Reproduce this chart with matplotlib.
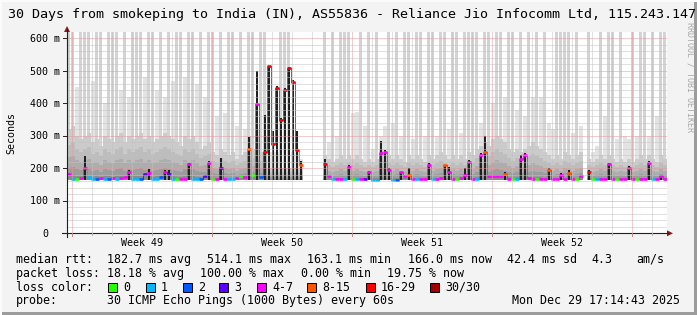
import numpy as np
import matplotlib
matplotlib.use('Agg')
import matplotlib.pyplot as plt
from matplotlib.lines import Line2D
from matplotlib.patches import Rectangle, Polygon

W, H = 697, 315
nan = np.nan

title = '30 Days from smokeping to India (IN), AS55836 - Reliance Jio Infocomm Ltd, 115.243.147'
week_labels = ['Week 49', 'Week 50', 'Week 51', 'Week 52']
week_mid_days = [3.75, 10.75, 17.75, 24.75]
y_ticks = [0, 100, 200, 300, 400, 500, 600]
y_tick_labels = ['0', '100 m', '200 m', '300 m', '400 m', '500 m', '600 m']
bin_days = 0.2     # each value below covers 0.2 day (about 4.8 h)
min_rtt = 163.1

# median rtt per bin (ms)
median_rtt = np.array([
    182, 168, 168, 170, 200, 172, 168, 168, 170, 168,
    168, 170, 168, 170, 172, 190, 166, 166, 168, 182,
    185, 168, 168, 172, 188, 182, 168, 166, 168, 168,
    212, 166, 166, 168, 175, 215, 166, 168, 200, 168,
    168, 168, 170, 178, 172, 260, 180, 398, 172, 250,
    514, 275, 447, 350, 440, 508, 465, 258, 210, nan,
    nan, nan, nan, nan, 212, 178, 168, 168, 168, 168,
    205, 166, 166, 168, 168, 188, 165, 165, 247, 250,
    195, 165, 165, 188, 175, 180, 168, 168, 168, 168,
    210, 168, 168, 170, 210, 190, 168, 166, 170, 180,
    220, 166, 166, 240, 250, 175, 175, 176, 176, 182,
    168, 166, 166, 230, 240, 170, 166, 166, 166, 166,
    195, 166, 166, 180, 168, 185, 166, 166, 175, nan,
    190, 166, 166, 166, 168, 212, 168, 166, 166, 166,
    200, 166, 166, 166, 166, 218, 166, 168, 175, 166])

# loss colour index per bin (0 .. 7 -> 0, 1, 2, 3, 4-7, 8-15, 16-29, 30/30)
loss_level = [
    4, 1, 0, 4, 4, 1, 1, 2, 4, 1,
    2, 4, 1, 4, 4, 4, 1, 1, 2, 3,
    4, 1, 1, 2, 4, 3, 1, 0, 4, 4,
    4, 1, 1, 2, 3, 4, 0, 4, 3, 4,
    1, 1, 4, 0, 4, 5, 0, 4, 2, 6,
    6, 6, 6, 6, 6, 6, 6, 6, 5, 7,
    7, 7, 7, 7, 6, 4, 1, 4, 4, 1,
    4, 0, 1, 4, 3, 4, 1, 1, 4, 4,
    4, 1, 2, 4, 4, 5, 4, 1, 4, 4,
    4, 1, 4, 4, 5, 4, 4, 0, 4, 4,
    4, 4, 1, 4, 5, 4, 4, 4, 4, 5,
    4, 0, 1, 4, 4, 4, 4, 0, 4, 4,
    5, 4, 4, 4, 4, 5, 4, 0, 4, 4,
    6, 0, 1, 4, 4, 4, 4, 0, 4, 4,
    4, 4, 0, 4, 4, 4, 1, 4, 4, 4]

# top of the dense (dark) smoke, 0 = none
dark_top = np.array([
    0, 0, 0, 0, 238, 0, 0, 0, 0, 0,
    0, 0, 0, 0, 0, 195, 0, 0, 0, 0,
    198, 0, 0, 0, 195, 195, 0, 0, 0, 0,
    218, 0, 0, 0, 0, 222, 0, 0, 232, 0,
    0, 0, 0, 0, 0, 297, 0, 500, 0, 365,
    515, 316, 453, 355, 447, 512, 472, 316, 222, 0,
    0, 0, 0, 0, 230, 0, 0, 0, 0, 0,
    210, 0, 0, 0, 0, 192, 0, 0, 283, 256,
    200, 0, 0, 190, 0, 200, 0, 0, 0, 0,
    216, 0, 0, 0, 210, 205, 0, 0, 0, 200,
    225, 0, 0, 246, 300, 0, 0, 0, 0, 190,
    0, 0, 0, 240, 246, 0, 0, 0, 0, 0,
    200, 0, 0, 185, 0, 195, 0, 0, 0, 0,
    195, 0, 0, 0, 0, 216, 0, 0, 0, 0,
    206, 0, 0, 0, 0, 222, 0, 0, 180, 0], dtype=float)

# top of the medium grey smoke (ms)
smoke_mid = np.array([
    320, 330, 300, 290, 300, 310, 280, 290, 270, 300,
    290, 280, 300, 310, 280, 300, 290, 300, 310, 290,
    300, 280, 290, 300, 310, 300, 290, 280, 270, 300,
    290, 300, 280, 260, 270, 280, 250, 240, 260, 250,
    240, 250, 230, 240, 250, 300, 260, 300, 250, 300,
    200, 200, 200, 200, 200, 200, 200, 200, 200, nan,
    nan, nan, nan, nan, 240, 230, 220, 230, 240, 230,
    240, 230, 240, 230, 220, 230, 220, 230, 260, 250,
    240, 230, 240, 230, 220, 240, 230, 240, 230, 220,
    240, 230, 240, 250, 240, 230, 240, 230, 240, 230,
    250, 240, 260, 270, 280, 270, 290, 300, 290, 280,
    260, 250, 260, 250, 260, 270, 280, 270, 260, 250,
    240, 230, 240, 230, 250, 240, 230, 240, 250, nan,
    230, 220, 230, 240, 230, 240, 230, 220, 230, 220,
    230, 220, 230, 240, 230, 240, 230, 220, 240, 230])

# top of the light smoke (ms), 620 = above the top of the graph
smoke_top = np.array([
    620, 620, 450, 620, 620, 620, 470, 620, 620, 400,
    620, 620, 620, 440, 620, 420, 620, 620, 620, 480,
    620, 620, 440, 620, 420, 620, 470, 620, 620, 480,
    620, 620, 460, 620, 420, 620, 620, 360, 620, 370,
    620, 620, 330, 620, 320, 620, 620, 320, 620, 620,
    250, 250, 250, 620, 620, 620, 250, 250, 230, nan,
    nan, nan, nan, nan, 620, 280, 620, 300, 620, 620,
    620, 370, 375, 620, 330, 620, 260, 620, 300, 330,
    620, 340, 620, 300, 620, 620, 290, 620, 620, 300,
    620, 620, 300, 620, 620, 320, 620, 620, 310, 620,
    620, 620, 620, 340, 620, 620, 400, 620, 620, 420,
    620, 620, 380, 620, 360, 620, 420, 620, 420, 620,
    340, 320, 620, 620, 620, 620, 310, 620, 330, nan,
    620, 250, 270, 620, 360, 620, 620, 290, 620, 300,
    290, 620, 300, 620, 620, 300, 620, 360, 620, 620])

loss_colors = ['#26ff00', '#00b8ff', '#0059ff', '#5e00ff',
               '#ff00ff', '#ff5500', '#ff0000', '#a10000']
loss_names = ['0', '1', '2', '3', '4-7', '8-15', '16-29', '30/30']

mono = 'DejaVu Sans Mono'


def fx(x):
    return x / W


def fy(y):
    return 1 - y / H


fig = plt.figure(figsize=(W / 100, H / 100), dpi=100, facecolor='#f3f3f3')
y0, y1 = 233.3, 32
ax = fig.add_axes([fx(67), fy(y0), 600 / W, (y0 - y1) / H])
ax.set_xlim(0, 30)
ax.set_ylim(0, 620)
ax.set_facecolor('white')
ax.set_xticks([])
ax.set_yticks([])
for s in ax.spines.values():
    s.set_visible(False)

n = len(median_rtt)
x_left = np.arange(n) * bin_days
ok = ~np.isnan(median_rtt)


def bars(top, color, z, width=bin_days, offset=0.0, mask=None):
    m = ok if mask is None else (ok & mask)
    top = np.maximum(top, min_rtt)
    ax.bar(x_left[m] + offset, (top - min_rtt)[m], width=width, bottom=min_rtt,
           align='edge', color=color, linewidth=0, zorder=z)


# smoke: outer part (off-scale columns darker and a bit narrower), then
# darker layers toward the median
tall = smoke_top >= 600
bars(smoke_top, '#e3e3e3', 1, mask=~tall)
bars(smoke_top, '#d3d3d3', 1, width=bin_days * 0.75, offset=bin_days * 0.1, mask=tall)
for f, c in zip([1.0, 0.7, 0.45, 0.25, 0.1],
                ['#cbcbcb', '#bdbdbd', '#adadad', '#9c9c9c', '#8a8a8a']):
    bars(min_rtt + (smoke_mid - min_rtt) * f, c, 2)
dk = np.where(dark_top > 0, dark_top, min_rtt)
bars(dk, '#202020', 3, width=bin_days * 0.7, offset=bin_days * 0.15)

# median line coloured by loss
for i in range(n):
    if np.isnan(median_rtt[i]):
        continue
    c = loss_colors[loss_level[i]]
    ax.plot([x_left[i], x_left[i] + bin_days], [median_rtt[i]] * 2, color=c,
            lw=1.9, solid_capstyle='butt', zorder=4)
    if i > 0 and not np.isnan(median_rtt[i - 1]) and abs(median_rtt[i] - median_rtt[i - 1]) > 4:
        ax.plot([x_left[i]] * 2, [median_rtt[i - 1], median_rtt[i]], color=c,
                lw=0.6, zorder=4)

# grid, drawn over the data like rrdtool does
dot = (0, (1, 1))
for d in range(30):
    xd = 0.25 + d
    major = d % 7 == 0
    ax.axvline(xd, color='#e39a9a' if major else '#c2c2c2', lw=0.72, ls=dot, zorder=5)
for v in range(20, 620, 20):
    major = v % 100 == 0
    ax.axhline(v, color='#e39a9a' if major else '#c2c2c2', lw=0.72, ls=dot, zorder=5)

# axes with arrows
fig.add_artist(Line2D([fx(62), fx(668)], [fy(y0)] * 2, color='#202020', lw=0.8))
fig.add_artist(Line2D([fx(67)] * 2, [fy(237), fy(29)], color='#202020', lw=0.8))
fig.add_artist(Polygon([(fx(667), fy(y0 - 3)), (fx(667), fy(y0 + 3)), (fx(673), fy(y0))],
                       closed=True, color='#8e1b1b', lw=0))
fig.add_artist(Polygon([(fx(64), fy(32)), (fx(70), fy(32)), (fx(67), fy(26))],
                       closed=True, color='#8e1b1b', lw=0))
for v in y_ticks:
    yy = y0 - v * (y0 - y1) / 620
    fig.add_artist(Line2D([fx(63), fx(67)], [fy(yy)] * 2, color='#202020', lw=0.7))
for d in range(30):
    xx = 67 + (0.25 + d) * 20
    major = d % 7 == 0
    fig.add_artist(Line2D([fx(xx)] * 2, [fy(y0), fy(y0 + (3 if major else 2))],
                          color='#d08080' if major else '#b0b0b0', lw=0.7))

# texts
fig.text(fx(8), fy(18), title, family=mono, fontsize=9.6, ha='left', va='baseline')
fig.text(fx(11), fy(133), 'Seconds', family=mono, fontsize=7.2, rotation=90,
         ha='center', va='center')
for v, lab in zip(y_ticks, y_tick_labels):
    yy = y0 - v * (y0 - y1) / 620
    xr = 60 if v > 0 else 48
    fig.text(fx(xr), fy(yy + 3.6), lab, family=mono, fontsize=7.2, ha='right', va='baseline')
for d, lab in zip(week_mid_days, week_labels):
    fig.text(fx(67 + d * 20), fy(246), lab, family=mono, fontsize=7.2, ha='center',
             va='baseline')
fig.text(fx(690), fy(22), 'RRDTOOL / TOBI OETIKER', family=mono, fontsize=6,
         rotation=270, ha='center', va='top', color='#a8a8a8')

lf = 8.4
rows = [
    (263, [(16, 'median rtt:'), (107, '182.7 ms avg'), (207, '514.1 ms max'),
           (307, '163.1 ms min'), (408, '166.0 ms now'), (507, '42.4 ms sd'),
           (591, '4.3'), (636, 'am/s')]),
    (277, [(16, 'packet loss:'), (107, '18.18 % avg'), (200, '100.00 % max'),
           (301, '0.00 % min'), (387, '19.75 % now')]),
    (291, [(16, 'loss color:')]),
    (304, [(16, 'probe:'), (107, '30 ICMP Echo Pings (1000 Bytes) every 60s')]),
]
for yb, items in rows:
    for xx, s in items:
        fig.text(fx(xx), fy(yb), s, family=mono, fontsize=lf, ha='left', va='baseline')
fig.text(fx(680), fy(304), 'Mon Dec 29 17:14:43 2025', family=mono, fontsize=lf,
         ha='right', va='baseline')

box_x = [108, 146, 183, 219, 257, 307, 366, 430]
for bx, c, name in zip(box_x, loss_colors, loss_names):
    fig.add_artist(Rectangle((fx(bx), fy(292)), 9 / W, 9 / H, facecolor=c,
                             edgecolor='black', lw=0.7))
    fig.text(fx(bx + 15), fy(291), name, family=mono, fontsize=lf, ha='left',
             va='baseline')

# frame
fig.add_artist(Rectangle((fx(694), 0), 3 / W, 1, facecolor='#9c9c9c', lw=0))
fig.add_artist(Rectangle((0, 0), 1, 3 / H, facecolor='#9c9c9c', lw=0))
fig.add_artist(Rectangle((0, fy(2)), 1, 2 / H, facecolor='#fbfbfb', lw=0))
fig.add_artist(Rectangle((0, 0), 2 / W, 1, facecolor='#fbfbfb', lw=0))

fig.savefig('out.png', dpi=100, facecolor=fig.get_facecolor())
